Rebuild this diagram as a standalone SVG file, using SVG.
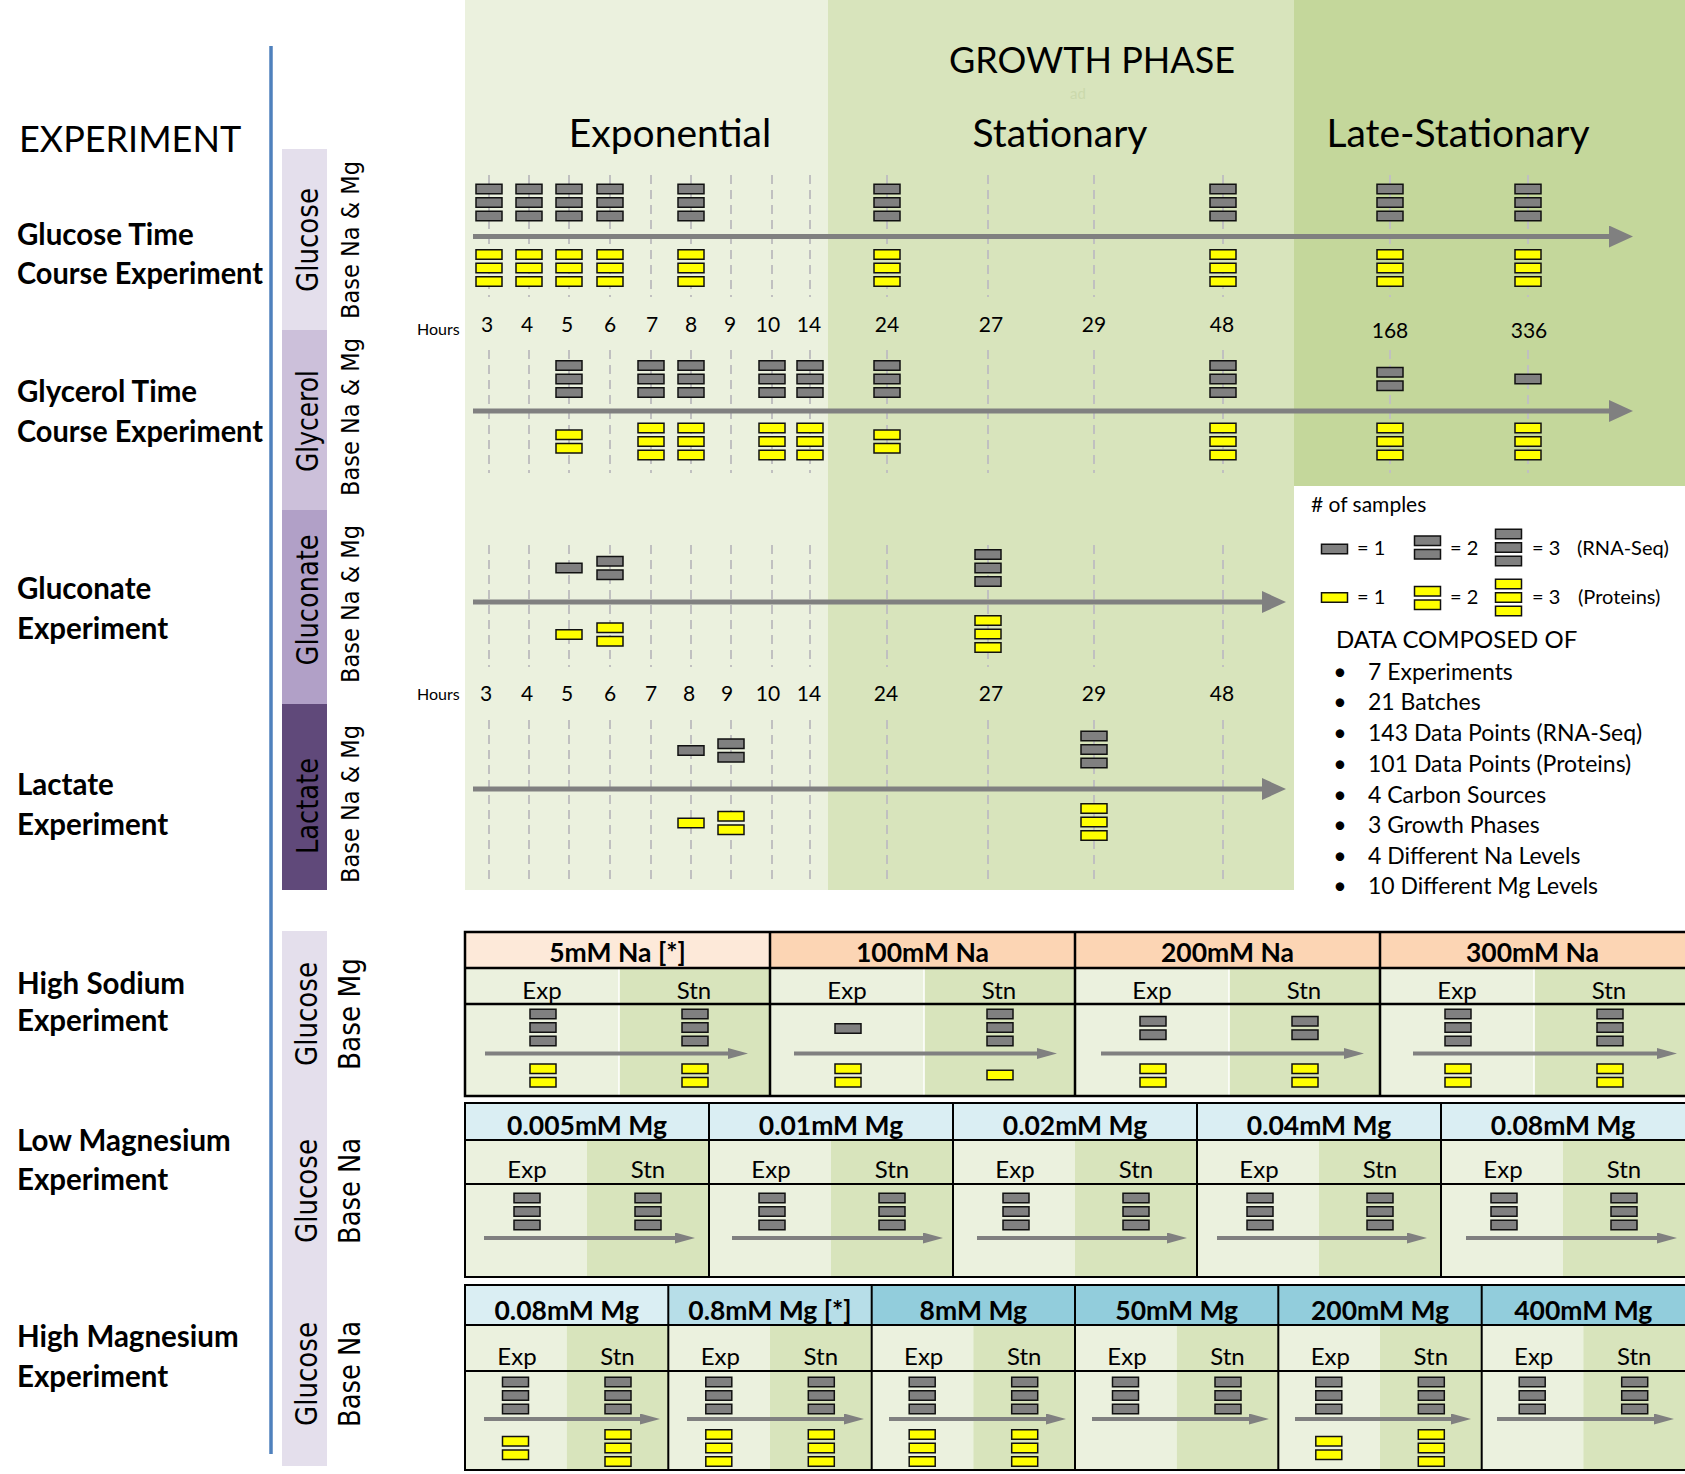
<svg xmlns="http://www.w3.org/2000/svg" width="1685" height="1474" viewBox="0 0 1685 1474">
<defs>
<style>
.t{font-family:Lato,"Liberation Sans",sans-serif;fill:#000}
.b{font-weight:700}
.v{font-family:"DejaVu Sans",Verdana,sans-serif;fill:#000}
.dash{stroke:#C0C0C0;stroke-width:2;stroke-dasharray:9 6;fill:none}
.gb{fill:#808080;stroke:#111;stroke-width:1.5}
.yb{fill:#FFFF00;stroke:#111;stroke-width:1.5}
.tl{stroke:#808080;stroke-width:5;fill:none;marker-end:url(#ahL)}
.ta{stroke:#808080;stroke-width:4;fill:none;marker-end:url(#ahS)}
.grid{stroke:#000;stroke-width:2.5;fill:none}
.sep{stroke:#fff;stroke-width:1.5}
.hdr{font-size:26.5px;text-anchor:middle}
.sub{font-size:24px;text-anchor:middle}
.hr{font-size:21px;text-anchor:middle}
.lab{font-size:29.5px;font-weight:700}
.cs{font-size:30px;text-anchor:middle}
.bl{font-size:23px}
</style>
<marker id="ahL" markerUnits="userSpaceOnUse" markerWidth="24" markerHeight="22" viewBox="0 0 24 22" refX="2" refY="11" orient="auto"><path d="M0,0 L24,11 L0,22 z" fill="#808080"/></marker>
<marker id="ahS" markerUnits="userSpaceOnUse" markerWidth="20" markerHeight="11" viewBox="0 0 20 11" refX="2" refY="5.5" orient="auto"><path d="M0,0 L20,5.5 L0,11 z" fill="#808080"/></marker>
<g id="g1"><rect class="gb" x="-13" y="-4.75" width="26" height="9.5"/></g>
<g id="g2"><rect class="gb" x="-13" y="-11.5" width="26" height="9.5"/><rect class="gb" x="-13" y="2" width="26" height="9.5"/></g>
<g id="g3"><rect class="gb" x="-13" y="-18.25" width="26" height="9.5"/><rect class="gb" x="-13" y="-4.75" width="26" height="9.5"/><rect class="gb" x="-13" y="8.75" width="26" height="9.5"/></g>
<g id="y1"><rect class="yb" x="-13" y="-4.75" width="26" height="9.5"/></g>
<g id="y2"><rect class="yb" x="-13" y="-11.5" width="26" height="9.5"/><rect class="yb" x="-13" y="2" width="26" height="9.5"/></g>
<g id="y3"><rect class="yb" x="-13" y="-18.25" width="26" height="9.5"/><rect class="yb" x="-13" y="-4.75" width="26" height="9.5"/><rect class="yb" x="-13" y="8.75" width="26" height="9.5"/></g>
</defs>
<rect width="1685" height="1474" fill="#fff"/>

<g id="phase-backgrounds">
<rect x="465" y="0" width="363" height="890" fill="#EBF1DE"/>
<rect x="828" y="0" width="466" height="890" fill="#D8E4BC"/>
<rect x="1294" y="0" width="391" height="486" fill="#C4D79B"/>
</g>

<g id="phase-titles">
<text class="t" x="1092" y="73" font-size="36" text-anchor="middle">GROWTH PHASE</text>
<text class="t" x="1078" y="99" font-size="15" text-anchor="middle" style="fill:#CBD9AC">ad</text>
<text class="t" x="670" y="147" font-size="39" text-anchor="middle">Exponential</text>
<text class="t" x="1060" y="147" font-size="39" text-anchor="middle">Stationary</text>
<text class="t" x="1458" y="147" font-size="39" text-anchor="middle">Late-Stationary</text>
<text class="t" x="19" y="152" font-size="36">EXPERIMENT</text>
</g>

<line id="experiment-axis" x1="271" y1="46" x2="271" y2="1454" stroke="#4F81BD" stroke-width="3.5"/>

<g id="experiment-labels">
<text class="t lab" x="17" y="245">Glucose Time</text>
<text class="t lab" x="17" y="284" textLength="246" lengthAdjust="spacingAndGlyphs">Course Experiment</text>
<text class="t lab" x="17" y="402">Glycerol Time</text>
<text class="t lab" x="17" y="442" textLength="246" lengthAdjust="spacingAndGlyphs">Course Experiment</text>
<text class="t lab" x="17" y="599">Gluconate</text>
<text class="t lab" x="17" y="639">Experiment</text>
<text class="t lab" x="17" y="795">Lactate</text>
<text class="t lab" x="17" y="835">Experiment</text>
<text class="t lab" x="17" y="994">High Sodium</text>
<text class="t lab" x="17" y="1031">Experiment</text>
<text class="t lab" x="17" y="1151">Low Magnesium</text>
<text class="t lab" x="17" y="1190">Experiment</text>
<text class="t lab" x="17" y="1347">High Magnesium</text>
<text class="t lab" x="17" y="1387">Experiment</text>
</g>

<g id="carbon-sources">
<rect x="282" y="149" width="45" height="181" fill="#E4DFEC"/>
<rect x="282" y="330" width="45" height="180" fill="#CCC0DA"/>
<rect x="282" y="510" width="45" height="194" fill="#B1A0C7"/>
<rect x="282" y="704" width="45" height="186" fill="#60497A"/>
<rect x="282" y="931" width="45" height="535" fill="#E4DFEC"/>
<text class="v cs" transform="translate(318,240) rotate(-90)" textLength="104" lengthAdjust="spacingAndGlyphs">Glucose</text>
<text class="v cs" transform="translate(318,421) rotate(-90)" textLength="102" lengthAdjust="spacingAndGlyphs">Glycerol</text>
<text class="v cs" transform="translate(318,600) rotate(-90)" textLength="131" lengthAdjust="spacingAndGlyphs">Gluconate</text>
<text class="v cs" transform="translate(318,806) rotate(-90)" textLength="96" lengthAdjust="spacingAndGlyphs">Lactate</text>
<text class="v cs" transform="translate(317,1014) rotate(-90)" textLength="104" lengthAdjust="spacingAndGlyphs">Glucose</text>
<text class="v cs" transform="translate(317,1191) rotate(-90)" textLength="104" lengthAdjust="spacingAndGlyphs">Glucose</text>
<text class="v cs" transform="translate(317,1374) rotate(-90)" textLength="104" lengthAdjust="spacingAndGlyphs">Glucose</text>
<text class="v" font-size="25" text-anchor="middle" transform="translate(359,240) rotate(-90)" textLength="158" lengthAdjust="spacingAndGlyphs">Base Na &amp; Mg</text>
<text class="v" font-size="25" text-anchor="middle" transform="translate(359,417) rotate(-90)" textLength="158" lengthAdjust="spacingAndGlyphs">Base Na &amp; Mg</text>
<text class="v" font-size="25" text-anchor="middle" transform="translate(359,604) rotate(-90)" textLength="158" lengthAdjust="spacingAndGlyphs">Base Na &amp; Mg</text>
<text class="v" font-size="25" text-anchor="middle" transform="translate(359,804) rotate(-90)" textLength="158" lengthAdjust="spacingAndGlyphs">Base Na &amp; Mg</text>
<text class="v" font-size="30" text-anchor="middle" transform="translate(360,1014) rotate(-90)" textLength="112" lengthAdjust="spacingAndGlyphs">Base Mg</text>
<text class="v" font-size="30" text-anchor="middle" transform="translate(360,1191) rotate(-90)" textLength="106" lengthAdjust="spacingAndGlyphs">Base Na</text>
<text class="v" font-size="30" text-anchor="middle" transform="translate(360,1374) rotate(-90)" textLength="106" lengthAdjust="spacingAndGlyphs">Base Na</text>
</g>

<g id="hour-guides">
<path class="dash" d="M489,175V297M529,175V297M569,175V297M610,175V297M651,175V297M691,175V297M731,175V297M772,175V297M810,175V297M887,175V297M988,175V297M1094,175V297M1223,175V297M1390,175V297M1528,175V297"/>
<path class="dash" d="M489,350V473M529,350V473M569,350V473M610,350V473M651,350V473M691,350V473M731,350V473M772,350V473M810,350V473M887,350V473M988,350V473M1094,350V473M1223,350V473M1390,350V473M1528,350V473"/>
<path class="dash" d="M489,545V667M529,545V667M569,545V667M610,545V667M651,545V667M691,545V667M731,545V667M772,545V667M810,545V667M887,545V667M988,545V667M1094,545V667M1223,545V667"/>
<path class="dash" d="M489,720V885M529,720V885M569,720V885M610,720V885M651,720V885M691,720V885M731,720V885M772,720V885M810,720V885M887,720V885M988,720V885M1094,720V885M1223,720V885"/>
</g>

<g id="hour-labels">
<text class="t" x="417" y="335" font-size="16">Hours</text>
<text class="t hr" x="487" y="332">3</text><text class="t hr" x="527" y="332">4</text><text class="t hr" x="567" y="332">5</text><text class="t hr" x="610" y="332">6</text><text class="t hr" x="652" y="332">7</text><text class="t hr" x="691" y="332">8</text><text class="t hr" x="730" y="332">9</text><text class="t hr" x="768" y="332">10</text><text class="t hr" x="809" y="332">14</text><text class="t hr" x="887" y="332">24</text><text class="t hr" x="991" y="332">27</text><text class="t hr" x="1094" y="332">29</text><text class="t hr" x="1222" y="332">48</text>
<text class="t hr" x="1390" y="338">168</text><text class="t hr" x="1529" y="338">336</text>
<text class="t" x="417" y="700" font-size="16">Hours</text>
<text class="t hr" x="486" y="701">3</text><text class="t hr" x="527" y="701">4</text><text class="t hr" x="567" y="701">5</text><text class="t hr" x="610" y="701">6</text><text class="t hr" x="651" y="701">7</text><text class="t hr" x="689" y="701">8</text><text class="t hr" x="727" y="701">9</text><text class="t hr" x="768" y="701">10</text><text class="t hr" x="809" y="701">14</text><text class="t hr" x="886" y="701">24</text><text class="t hr" x="991" y="701">27</text><text class="t hr" x="1094" y="701">29</text><text class="t hr" x="1222" y="701">48</text>
</g>

<g id="glucose-time-course">
<use href="#g3" x="489" y="202.5"/><use href="#y3" x="489" y="268"/>
<use href="#g3" x="529" y="202.5"/><use href="#y3" x="529" y="268"/>
<use href="#g3" x="569" y="202.5"/><use href="#y3" x="569" y="268"/>
<use href="#g3" x="610" y="202.5"/><use href="#y3" x="610" y="268"/>
<use href="#g3" x="691" y="202.5"/><use href="#y3" x="691" y="268"/>
<use href="#g3" x="887" y="202.5"/><use href="#y3" x="887" y="268"/>
<use href="#g3" x="1223" y="202.5"/><use href="#y3" x="1223" y="268"/>
<use href="#g3" x="1390" y="202.5"/><use href="#y3" x="1390" y="268"/>
<use href="#g3" x="1528" y="202.5"/><use href="#y3" x="1528" y="268"/>
</g>

<g id="glycerol-time-course">
<use href="#g3" x="569" y="379"/><use href="#y2" x="569" y="441.5"/>
<use href="#g3" x="651" y="379"/><use href="#y3" x="651" y="441.5"/>
<use href="#g3" x="691" y="379"/><use href="#y3" x="691" y="441.5"/>
<use href="#g3" x="772" y="379"/><use href="#y3" x="772" y="441.5"/>
<use href="#g3" x="810" y="379"/><use href="#y3" x="810" y="441.5"/>
<use href="#g3" x="887" y="379"/><use href="#y2" x="887" y="441.5"/>
<use href="#g3" x="1223" y="379"/><use href="#y3" x="1223" y="441.5"/>
<use href="#g2" x="1390" y="379"/><use href="#y3" x="1390" y="441.5"/>
<use href="#g1" x="1528" y="379"/><use href="#y3" x="1528" y="441.5"/>
</g>

<g id="gluconate-experiment">
<use href="#g1" x="569" y="568"/><use href="#y1" x="569" y="634.5"/>
<use href="#g2" x="610" y="568"/><use href="#y2" x="610" y="634.5"/>
<use href="#g3" x="988" y="568"/><use href="#y3" x="988" y="634"/>
</g>

<g id="lactate-experiment">
<use href="#g1" x="691" y="750.5"/><use href="#y1" x="691" y="823"/>
<use href="#g2" x="731" y="750.5"/><use href="#y2" x="731" y="823"/>
<use href="#g3" x="1094" y="749.5"/><use href="#y3" x="1094" y="822"/>
</g>

<g id="legend">
<text class="t" x="1311" y="512" font-size="21"># of samples</text>
<use href="#g1" x="1334.5" y="549"/><text class="t" x="1357" y="555" font-size="20">= 1</text>
<use href="#g2" x="1427.5" y="547.5"/><text class="t" x="1450" y="555" font-size="20">= 2</text>
<use href="#g3" x="1508.5" y="547.5"/><text class="t" x="1532" y="555" font-size="20">= 3</text>
<text class="t" x="1577" y="555" font-size="20">(RNA-Seq)</text>
<use href="#y1" x="1334.5" y="597.5"/><text class="t" x="1357" y="604" font-size="20">= 1</text>
<use href="#y2" x="1427.5" y="598"/><text class="t" x="1450" y="604" font-size="20">= 2</text>
<use href="#y3" x="1508.5" y="597.5"/><text class="t" x="1532" y="604" font-size="20">= 3</text>
<text class="t" x="1578" y="604" font-size="20">(Proteins)</text>
<text class="t" x="1336" y="648" font-size="24">DATA COMPOSED OF</text>
<text class="t bl" x="1340" y="680" text-anchor="middle">•</text><text class="t bl" x="1368" y="680">7 Experiments</text>
<text class="t bl" x="1340" y="710" text-anchor="middle">•</text><text class="t bl" x="1368" y="710">21 Batches</text>
<text class="t bl" x="1340" y="741" text-anchor="middle">•</text><text class="t bl" x="1368" y="741">143 Data Points (RNA-Seq)</text>
<text class="t bl" x="1340" y="772" text-anchor="middle">•</text><text class="t bl" x="1368" y="772">101 Data Points (Proteins)</text>
<text class="t bl" x="1340" y="803" text-anchor="middle">•</text><text class="t bl" x="1368" y="803">4 Carbon Sources</text>
<text class="t bl" x="1340" y="833" text-anchor="middle">•</text><text class="t bl" x="1368" y="833">3 Growth Phases</text>
<text class="t bl" x="1340" y="864" text-anchor="middle">•</text><text class="t bl" x="1368" y="864">4 Different Na Levels</text>
<text class="t bl" x="1340" y="894" text-anchor="middle">•</text><text class="t bl" x="1368" y="894">10 Different Mg Levels</text>
</g>

<g id="high-sodium-table">
<rect x="465" y="932" width="305" height="36" fill="#FDE9D9"/>
<rect x="770" y="932" width="915" height="36" fill="#FCD5B4"/>
<rect x="465" y="968" width="154" height="128" fill="#EBF1DE"/><rect x="619" y="968" width="151" height="128" fill="#D8E4BC"/>
<rect x="770" y="968" width="154" height="128" fill="#EBF1DE"/><rect x="924" y="968" width="151" height="128" fill="#D8E4BC"/>
<rect x="1075" y="968" width="154" height="128" fill="#EBF1DE"/><rect x="1229" y="968" width="151" height="128" fill="#D8E4BC"/>
<rect x="1380" y="968" width="154" height="128" fill="#EBF1DE"/><rect x="1534" y="968" width="151" height="128" fill="#D8E4BC"/>
<path class="sep" d="M619,969V1095M924,969V1095M1229,969V1095M1534,969V1095"/>
<rect class="grid" x="465" y="932" width="1225" height="164"/>
<path class="grid" d="M465,968H1690M465,1004H1690M770,932V1096M1075,932V1096M1380,932V1096"/>
<text class="t b hdr" x="617.5" y="962">5mM Na [*]</text>
<text class="t b hdr" x="922.5" y="962">100mM Na</text>
<text class="t b hdr" x="1227.5" y="962">200mM Na</text>
<text class="t b hdr" x="1532.5" y="962">300mM Na</text>
<text class="t sub" x="542" y="999">Exp</text><text class="t sub" x="694" y="999">Stn</text>
<text class="t sub" x="847" y="999">Exp</text><text class="t sub" x="999" y="999">Stn</text>
<text class="t sub" x="1152" y="999">Exp</text><text class="t sub" x="1304" y="999">Stn</text>
<text class="t sub" x="1457" y="999">Exp</text><text class="t sub" x="1609" y="999">Stn</text>
<use href="#g3" x="543" y="1027.5"/><use href="#y2" x="543" y="1075.5"/>
<use href="#g3" x="695" y="1027.5"/><use href="#y2" x="695" y="1075.5"/>
<use href="#g1" x="848" y="1028.5"/><use href="#y2" x="848" y="1075.5"/>
<use href="#g3" x="1000" y="1027.5"/><use href="#y1" x="1000" y="1075"/>
<use href="#g2" x="1153" y="1028"/><use href="#y2" x="1153" y="1075.5"/>
<use href="#g2" x="1305" y="1028"/><use href="#y2" x="1305" y="1075.5"/>
<use href="#g3" x="1458" y="1027.5"/><use href="#y2" x="1458" y="1075.5"/>
<use href="#g3" x="1610" y="1027.5"/><use href="#y2" x="1610" y="1075.5"/>
</g>

<g id="low-magnesium-table">
<rect x="465" y="1103" width="1225" height="37" fill="#DAEEF3"/>
<rect x="465" y="1140" width="122" height="137" fill="#EBF1DE"/><rect x="587" y="1140" width="122" height="137" fill="#D8E4BC"/>
<rect x="709" y="1140" width="122" height="137" fill="#EBF1DE"/><rect x="831" y="1140" width="122" height="137" fill="#D8E4BC"/>
<rect x="953" y="1140" width="122" height="137" fill="#EBF1DE"/><rect x="1075" y="1140" width="122" height="137" fill="#D8E4BC"/>
<rect x="1197" y="1140" width="122" height="137" fill="#EBF1DE"/><rect x="1319" y="1140" width="122" height="137" fill="#D8E4BC"/>
<rect x="1441" y="1140" width="122" height="137" fill="#EBF1DE"/><rect x="1563" y="1140" width="122" height="137" fill="#D8E4BC"/>
<rect class="grid" x="465" y="1103" width="1225" height="174" style="stroke-width:2"/>
<path class="grid" style="stroke-width:2" d="M465,1140H1690M465,1184H1690M709,1103V1277M953,1103V1277M1197,1103V1277M1441,1103V1277"/>
<text class="t b hdr" x="587" y="1135">0.005mM Mg</text>
<text class="t b hdr" x="831" y="1135">0.01mM Mg</text>
<text class="t b hdr" x="1075" y="1135">0.02mM Mg</text>
<text class="t b hdr" x="1319" y="1135">0.04mM Mg</text>
<text class="t b hdr" x="1563" y="1135">0.08mM Mg</text>
<text class="t sub" x="527" y="1178">Exp</text><text class="t sub" x="648" y="1178">Stn</text>
<text class="t sub" x="771" y="1178">Exp</text><text class="t sub" x="892" y="1178">Stn</text>
<text class="t sub" x="1015" y="1178">Exp</text><text class="t sub" x="1136" y="1178">Stn</text>
<text class="t sub" x="1259" y="1178">Exp</text><text class="t sub" x="1380" y="1178">Stn</text>
<text class="t sub" x="1503" y="1178">Exp</text><text class="t sub" x="1624" y="1178">Stn</text>
<use href="#g3" x="527" y="1211.5"/><use href="#g3" x="648" y="1211.5"/>
<use href="#g3" x="772" y="1211.5"/><use href="#g3" x="892" y="1211.5"/>
<use href="#g3" x="1016" y="1211.5"/><use href="#g3" x="1136" y="1211.5"/>
<use href="#g3" x="1260" y="1211.5"/><use href="#g3" x="1380" y="1211.5"/>
<use href="#g3" x="1504" y="1211.5"/><use href="#g3" x="1624" y="1211.5"/>
</g>

<g id="high-magnesium-table">
<rect x="465" y="1285" width="203.3" height="40" fill="#DAEEF3"/>
<rect x="668.3" y="1285" width="203.4" height="40" fill="#B7DEE8"/>
<rect x="871.7" y="1285" width="818.3" height="40" fill="#92CDDC"/>
<rect x="465" y="1325" width="101.7" height="145" fill="#EBF1DE"/><rect x="566.7" y="1325" width="101.6" height="145" fill="#D8E4BC"/>
<rect x="668.3" y="1325" width="101.7" height="145" fill="#EBF1DE"/><rect x="770" y="1325" width="101.7" height="145" fill="#D8E4BC"/>
<rect x="871.7" y="1325" width="101.6" height="145" fill="#EBF1DE"/><rect x="973.3" y="1325" width="101.7" height="145" fill="#D8E4BC"/>
<rect x="1075" y="1325" width="101.7" height="145" fill="#EBF1DE"/><rect x="1176.7" y="1325" width="101.6" height="145" fill="#D8E4BC"/>
<rect x="1278.3" y="1325" width="101.7" height="145" fill="#EBF1DE"/><rect x="1380" y="1325" width="101.7" height="145" fill="#D8E4BC"/>
<rect x="1481.7" y="1325" width="101.6" height="145" fill="#EBF1DE"/><rect x="1583.3" y="1325" width="101.7" height="145" fill="#D8E4BC"/>
<rect class="grid" x="465" y="1285" width="1225" height="185" style="stroke-width:2"/>
<path class="grid" style="stroke-width:2" d="M465,1325H1690M465,1371H1690M668.3,1285V1470M871.7,1285V1470M1075,1285V1470M1278.3,1285V1470M1481.7,1285V1470"/>
<text class="t b hdr" x="566.7" y="1320">0.08mM Mg</text>
<text class="t b hdr" x="770" y="1320">0.8mM Mg [*]</text>
<text class="t b hdr" x="973.3" y="1320">8mM Mg</text>
<text class="t b hdr" x="1176.7" y="1320">50mM Mg</text>
<text class="t b hdr" x="1380" y="1320">200mM Mg</text>
<text class="t b hdr" x="1583.3" y="1320">400mM Mg</text>
<text class="t sub" x="517" y="1365">Exp</text><text class="t sub" x="617.5" y="1365">Stn</text>
<text class="t sub" x="720.3" y="1365">Exp</text><text class="t sub" x="820.8" y="1365">Stn</text>
<text class="t sub" x="923.7" y="1365">Exp</text><text class="t sub" x="1024.2" y="1365">Stn</text>
<text class="t sub" x="1127" y="1365">Exp</text><text class="t sub" x="1227.5" y="1365">Stn</text>
<text class="t sub" x="1330.3" y="1365">Exp</text><text class="t sub" x="1430.8" y="1365">Stn</text>
<text class="t sub" x="1533.7" y="1365">Exp</text><text class="t sub" x="1634.2" y="1365">Stn</text>
<use href="#g3" x="515.5" y="1395.5"/><use href="#y2" x="515.5" y="1448"/>
<use href="#g3" x="618" y="1395.5"/><use href="#y3" x="618" y="1448"/>
<use href="#g3" x="718.8" y="1395.5"/><use href="#y3" x="718.8" y="1448"/>
<use href="#g3" x="821.3" y="1395.5"/><use href="#y3" x="821.3" y="1448"/>
<use href="#g3" x="922.2" y="1395.5"/><use href="#y3" x="922.2" y="1448"/>
<use href="#g3" x="1024.7" y="1395.5"/><use href="#y3" x="1024.7" y="1448"/>
<use href="#g3" x="1125.5" y="1395.5"/>
<use href="#g3" x="1228" y="1395.5"/>
<use href="#g3" x="1328.8" y="1395.5"/><use href="#y2" x="1328.8" y="1448"/>
<use href="#g3" x="1431.3" y="1395.5"/><use href="#y3" x="1431.3" y="1448"/>
<use href="#g3" x="1532.2" y="1395.5"/>
<use href="#g3" x="1634.7" y="1395.5"/>
</g>

<g id="connectors">
<line class="tl" x1="473" y1="236.5" x2="1611" y2="236.5"/>
<line class="tl" x1="473" y1="411" x2="1611" y2="411"/>
<line class="tl" x1="473" y1="602" x2="1264" y2="602"/>
<line class="tl" x1="473" y1="789" x2="1264" y2="789"/>
<line class="ta" x1="485" y1="1053.5" x2="730" y2="1053.5"/>
<line class="ta" x1="794" y1="1053.5" x2="1039" y2="1053.5"/>
<line class="ta" x1="1101" y1="1053.5" x2="1346" y2="1053.5"/>
<line class="ta" x1="1413" y1="1053.5" x2="1659" y2="1053.5"/>
<line class="ta" x1="484" y1="1238" x2="677" y2="1238"/>
<line class="ta" x1="732" y1="1238" x2="925" y2="1238"/>
<line class="ta" x1="977" y1="1238" x2="1169" y2="1238"/>
<line class="ta" x1="1217" y1="1238" x2="1409" y2="1238"/>
<line class="ta" x1="1466" y1="1238" x2="1659" y2="1238"/>
<line class="ta" x1="484" y1="1419" x2="642" y2="1419"/>
<line class="ta" x1="687" y1="1419" x2="846" y2="1419"/>
<line class="ta" x1="889" y1="1419" x2="1048" y2="1419"/>
<line class="ta" x1="1092" y1="1419" x2="1251" y2="1419"/>
<line class="ta" x1="1295" y1="1419" x2="1453" y2="1419"/>
<line class="ta" x1="1497" y1="1419" x2="1656" y2="1419"/>
</g>
</svg>
